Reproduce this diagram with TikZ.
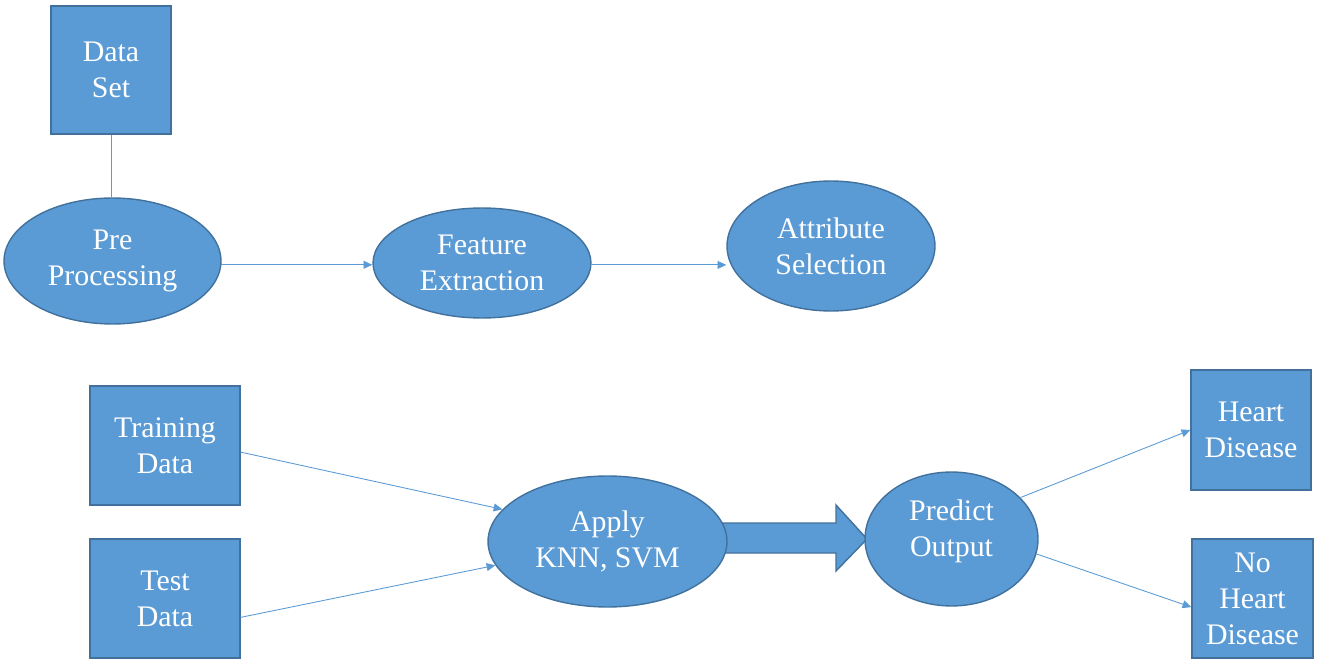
\documentclass[tikz,border=0pt]{standalone}
\usepackage{fontspec}
\setmainfont{Liberation Serif}
\usetikzlibrary{shapes.geometric,arrows.meta}
\definecolor{boxblue}{HTML}{5B9BD5}
\definecolor{edgeblue}{HTML}{41719C}
\tikzset{
  blockbox/.style={rectangle, draw=edgeblue, fill=boxblue, line width=0.8pt, text=white, align=center, inner sep=0pt},
  blob/.style={ellipse, draw=edgeblue, fill=boxblue, line width=0.8pt, text=white, align=center, inner sep=0pt},
  link/.style={draw=boxblue, line width=0.5pt},
}
\begin{document}
\begin{tikzpicture}[x=0.02cm, y=-0.02cm, >={Triangle[length=5pt,width=4.5pt]}, font=\fontsize{17}{20.5}\selectfont]
  \useasboundingbox (0,0) rectangle (1320,669);
  % big arrow between the two lower ellipses
  \draw[fill=boxblue, draw=edgeblue, line width=0.8pt] (720,523) -- (836,523) -- (836,505) -- (867,539)
    -- (836,571) -- (836,553) -- (720,553) -- cycle;
  % top row
  \node[blockbox, minimum width=2.4cm, minimum height=2.56cm] (dataset) at (111,70) {Data\\Set};
  \node[blob, minimum width=4.34cm, minimum height=2.52cm] (pre) at (112.5,261) {Pre\\Processing};
  \node[blob, minimum width=4.36cm, minimum height=2.2cm] (feat) at (482,263) {Feature\\Extraction};
  \node[blob, minimum width=4.16cm, minimum height=2.6cm] (attr) at (831,246) {Attribute\\Selection};
  % bottom row
  \node[blockbox, minimum width=3cm, minimum height=2.38cm] (train) at (165,445.5) {Training\\Data};
  \node[blockbox, minimum width=3cm, minimum height=2.38cm] (test) at (165,598.5) {Test\\Data};
  \node[blob, minimum width=4.78cm, minimum height=2.62cm] (apply) at (607.5,541.5) {Apply\\KNN, SVM};
  \node[blob, minimum width=3.46cm, minimum height=2.68cm] (predict) at (951.5,539)
    {\raisebox{0pt}[0pt][0pt]{\begin{tabular}{@{}c@{}}Predict\\Output\end{tabular}}};
  \node[blockbox, minimum width=2.4cm, minimum height=2.4cm] (hd) at (1251,430) {Heart\\Disease};
  \node[blockbox, minimum width=2.42cm, minimum height=2.38cm] (nohd) at (1252.5,598.5) {No\\Heart\\Disease};
  % connectors
  \draw[link] (dataset.south) -- (dataset.south |- pre.north);
  \draw[link,->] (pre.-2) -- (pre.-2 -| feat.west);
  \draw[link,->] (feat.-1) -- (feat.-1 -| attr.west);
  \draw[link,->] (train.-5) -- (apply.163);
  \draw[link,->] (test.-14) -- (apply.192);
  \draw[link,->] (predict.31) -- (hd.west);
  \draw[link,->] (predict.-10) -- (nohd.188);
\end{tikzpicture}
\end{document}
